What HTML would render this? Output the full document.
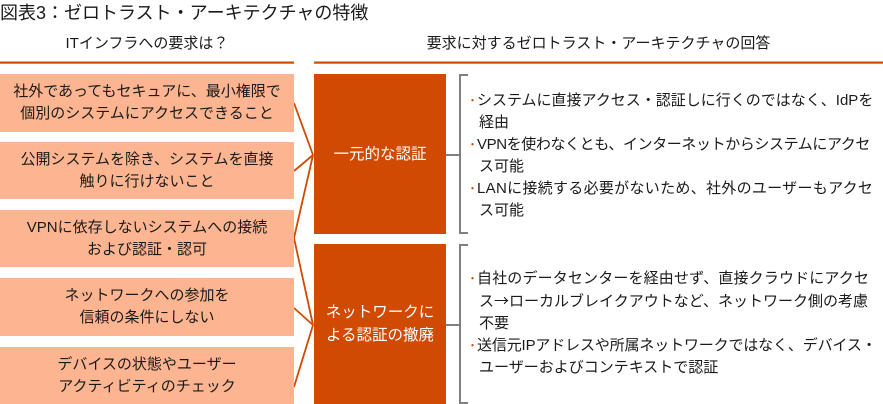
<!DOCTYPE html>
<html><head><meta charset="utf-8">
<style>
*{margin:0;padding:0;box-sizing:border-box}
html,body{width:883px;height:404px;background:#fff;overflow:hidden}
body{position:relative;font-family:"Liberation Sans","Noto Sans CJK JP",sans-serif;color:#1a1a1a}
.abs{position:absolute}
.title{left:0;top:1px;font-size:18px;line-height:24px;white-space:nowrap}
.hdr{font-size:15px;line-height:20px;white-space:nowrap;text-align:center;top:34px}
.lb{left:0;width:294px;background:#FDB591;display:flex;align-items:center;justify-content:center;text-align:center;font-size:15px;line-height:22px;white-space:nowrap}
.ob{left:314px;width:132px;background:#D04A02;color:#fff;display:flex;align-items:center;justify-content:center;text-align:center;font-size:15.5px;line-height:23px;white-space:nowrap}
.bl{font-size:15px;line-height:22px;white-space:nowrap;left:471px}
.bl .it{position:relative;padding-left:6px}
.bl .it .d{position:absolute;left:-4px;top:0;color:#D04A02;font-size:11px}
.bl .c{padding-left:8px}
.ar{font-family:"Noto Sans CJK JP",sans-serif}
</style></head>
<body>
<div class="abs title">図表3：ゼロトラスト・アーキテクチャの特徴</div>
<div class="abs hdr" style="left:0;width:294px">ITインフラへの要求は？</div>
<div class="abs hdr" style="left:314px;width:569px">要求に対するゼロトラスト・アーキテクチャの回答</div>

<svg class="abs" style="left:0;top:0" width="883" height="404" viewBox="0 0 883 404">
<rect x="0" y="61.5" width="294" height="2.2" fill="#D04A02"/>
<rect x="314" y="61.5" width="569" height="2.2" fill="#D04A02"/>
<g stroke="#D04A02" stroke-width="1.8" fill="none" stroke-linejoin="miter">
<line x1="294" y1="103" x2="313" y2="155"/>
<line x1="294" y1="171" x2="313" y2="155"/>
<polyline points="313,155 294,238 313,325"/>
<line x1="294" y1="308" x2="313" y2="325"/>
<line x1="294" y1="387" x2="313" y2="325"/>
</g>
<g stroke="#808080" stroke-width="2" fill="none">
<polyline points="468,75 460,75 460,233 468,233"/>
<line x1="446" y1="155" x2="460" y2="155"/>
<polyline points="468,245 460,245 460,403 468,403"/>
<line x1="446" y1="325" x2="460" y2="325"/>
</g>
</svg>

<div class="abs lb" style="top:74px;height:58px">社外であってもセキュアに、最小権限で<br>個別のシステムにアクセスできること</div>
<div class="abs lb" style="top:142px;height:57px">公開システムを除き、システムを直接<br>触りに行けないこと</div>
<div class="abs lb" style="top:210px;height:57px">VPNに依存しないシステムへの接続<br>および認証・認可</div>
<div class="abs lb" style="top:278px;height:58px">ネットワークへの参加を<br>信頼の条件にしない</div>
<div class="abs lb" style="top:347px;height:57px">デバイスの状態やユーザー<br>アクティビティのチェック</div>

<div class="abs ob" style="top:74px;height:160px">一元的な認証</div>
<div class="abs ob" style="top:244px;height:160px">ネットワークに<br>よる認証の撤廃</div>

<div class="abs bl" style="top:90px">
<div class="it"><span class="d">・</span>システムに直接アクセス・認証しに行くのではなく、IdPを</div>
<div class="c">経由</div>
<div class="it" style="letter-spacing:-0.4px"><span class="d">・</span>VPNを使わなくとも、インターネットからシステムにアクセ</div>
<div class="c">ス可能</div>
<div class="it" style="letter-spacing:0.3px"><span class="d">・</span>LANに接続する必要がないため、社外のユーザーもアクセ</div>
<div class="c">ス可能</div>
</div>

<div class="abs bl" style="top:268px">
<div class="it" style="letter-spacing:0.15px"><span class="d">・</span>自社のデータセンターを経由せず、直接クラウドにアクセ</div>
<div class="c">ス<span class="ar">→</span>ローカルブレイクアウトなど、ネットワーク側の考慮</div>
<div class="c">不要</div>
<div class="it" style="letter-spacing:-0.15px"><span class="d">・</span>送信元IPアドレスや所属ネットワークではなく、デバイス・</div>
<div class="c">ユーザーおよびコンテキストで認証</div>
</div>
</body></html>
